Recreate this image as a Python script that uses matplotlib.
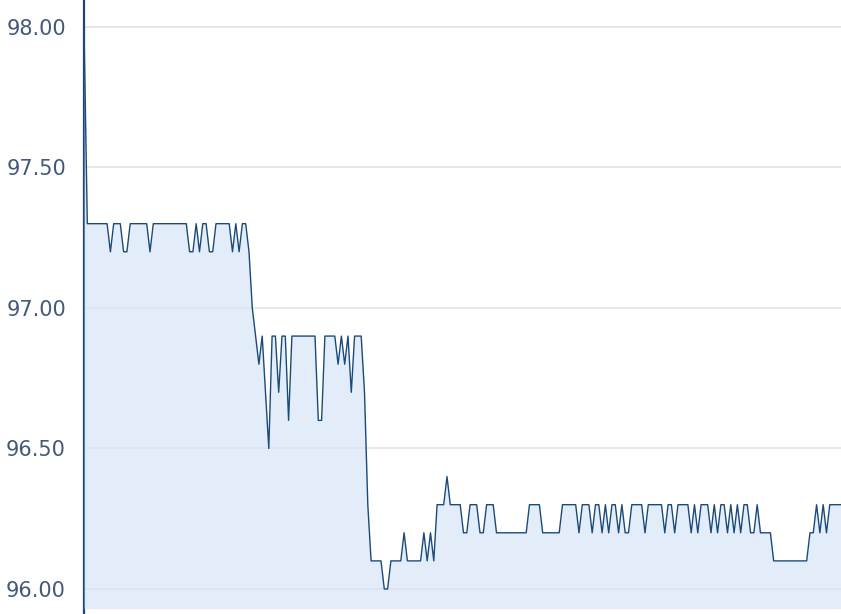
import numpy as np
import matplotlib
matplotlib.use("Agg")
import matplotlib.pyplot as plt

# Values, one per sample
values = [
    98.0, 97.3, 97.3, 97.3, 97.3, 97.3, 97.3, 97.3, 97.2, 97.3, 97.3, 97.3, 97.2, 97.2, 97.3,
    97.3, 97.3, 97.3, 97.3, 97.3, 97.2, 97.3, 97.3, 97.3, 97.3, 97.3, 97.3, 97.3, 97.3, 97.3,
    97.3, 97.3, 97.2, 97.2, 97.3, 97.2, 97.3, 97.3, 97.2, 97.2, 97.3, 97.3, 97.3, 97.3, 97.3,
    97.2, 97.3, 97.2, 97.3, 97.3, 97.2, 97.0, 96.9, 96.8, 96.9, 96.7, 96.5, 96.9, 96.9, 96.7,
    96.9, 96.9, 96.6, 96.9, 96.9, 96.9, 96.9, 96.9, 96.9, 96.9, 96.9, 96.6, 96.6, 96.9, 96.9,
    96.9, 96.9, 96.8, 96.9, 96.8, 96.9, 96.7, 96.9, 96.9, 96.9, 96.7, 96.3, 96.1, 96.1, 96.1,
    96.1, 96.0, 96.0, 96.1, 96.1, 96.1, 96.1, 96.2, 96.1, 96.1, 96.1, 96.1, 96.1, 96.2, 96.1,
    96.2, 96.1, 96.3, 96.3, 96.3, 96.4, 96.3, 96.3, 96.3, 96.3, 96.2, 96.2, 96.3, 96.3, 96.3,
    96.2, 96.2, 96.3, 96.3, 96.3, 96.2, 96.2, 96.2, 96.2, 96.2, 96.2, 96.2, 96.2, 96.2, 96.2,
    96.3, 96.3, 96.3, 96.3, 96.2, 96.2, 96.2, 96.2, 96.2, 96.2, 96.3, 96.3, 96.3, 96.3, 96.3,
    96.2, 96.3, 96.3, 96.3, 96.2, 96.3, 96.3, 96.2, 96.3, 96.2, 96.3, 96.3, 96.2, 96.3, 96.2,
    96.2, 96.3, 96.3, 96.3, 96.3, 96.2, 96.3, 96.3, 96.3, 96.3, 96.3, 96.2, 96.3, 96.3, 96.2,
    96.3, 96.3, 96.3, 96.3, 96.2, 96.3, 96.2, 96.3, 96.3, 96.3, 96.2, 96.3, 96.2, 96.3, 96.3,
    96.2, 96.3, 96.2, 96.3, 96.2, 96.3, 96.3, 96.2, 96.2, 96.3, 96.2, 96.2, 96.2, 96.2, 96.1,
    96.1, 96.1, 96.1, 96.1, 96.1, 96.1, 96.1, 96.1, 96.1, 96.1, 96.2, 96.2, 96.3, 96.2, 96.3,
    96.2, 96.3, 96.3, 96.3, 96.3, 96.3,
]
y_ticks = [96.0, 96.5, 97.0, 97.5, 98.0]
y_tick_labels = ["96.00", "96.50", "97.00", "97.50", "98.00"]

# axis ranges / look
y_min, y_max = 95.911, 98.096
fill_base = 95.93
x_max = 229.4

line_color = "#1b4a7a"
fill_color = (214 / 255, 230 / 255, 247 / 255)
label_color = "#44597a"

fig = plt.figure(figsize=(8.41, 6.14), dpi=100)
ax = fig.add_axes([84 / 841, 0, 757 / 841, 1])

x = np.arange(len(values))
ax.fill_between(x, values, fill_base, color=fill_color, alpha=0.7, lw=0, zorder=3)
ax.plot(x, values, color=line_color, lw=1.0, zorder=4)

ax.set_xlim(0, x_max)
ax.set_ylim(y_min, y_max)

ax.set_yticks(y_ticks)
ax.set_yticklabels(y_tick_labels)
ax.tick_params(axis="y", length=0, pad=13, labelsize=15, labelcolor=label_color)
ax.set_xticks([])
ax.grid(axis="y", color="#e3e3e3", lw=1.2, zorder=0)
ax.set_axisbelow(True)

for side in ["top", "right", "bottom"]:
    ax.spines[side].set_visible(False)
ax.spines["left"].set_color("#1c4676")
ax.spines["left"].set_linewidth(1.6)
ax.spines["left"].set_zorder(2)

fig.savefig("out.png", dpi=100)
